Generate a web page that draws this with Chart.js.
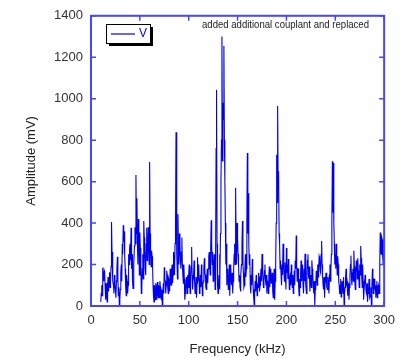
<!DOCTYPE html>
<html lang="en">
<head>
    <meta charset="UTF-8">
    <title>Amplitude spectrum</title>
    <style>
        html, body { margin: 0; padding: 0; background: #ffffff; }
        #wrap { width: 402px; height: 358px; }
    </style>
</head>
<body>
    <div id="wrap"><canvas id="chart" width="402" height="358"></canvas></div>
    <script src="https://cdn.jsdelivr.net/npm/chart.js@4.4.1/dist/chart.umd.min.js"></script>
    <script>
        // amplitude readings (mV), one every 0.5 kHz
        var amp10to59 = [20, 60, 100, 50, 185, 140, 120, 170, 160, 90, 30, 110, 60, 20, 100, 140, 70, 110, 163, 90,
                         120, 190, 405, 260, 200, 120, 100, 60, 150, 100, 80, 40, 120, 180, 238, 130, 50, 90, 0, 30,
                         80, 160, 200, 120, 300, 250, 390, 310, 360, 240, 180, 90, 50, 150, 120, 60, 100, 250, 200, 280,
                         300, 220, 377, 180, 250, 120, 85, 160, 200, 290, 380, 300, 632, 350, 520, 300, 200, 420, 350, 150,
                         354, 280, 200, 60, 92, 180, 250, 130, 410, 330, 267, 180, 150, 300, 377, 220, 250, 380, 300, 200];
        var amp60to109 = [695, 350, 270, 190, 267, 240, 200, 100, 44, 20, 100, 30, 60, 110, 90, 30, 116, 70, 40, 100,
                          40, 120, 90, 50, 30, 80, 0, 50, 110, 60, 187, 130, 120, 60, 100, 170, 150, 90, 60, 130,
                          120, 70, 180, 120, 100, 170, 200, 110, 150, 260, 211, 150, 300, 380, 838, 400, 250, 130, 443, 280,
                          200, 350, 300, 220, 180, 260, 330, 200, 150, 110, 200, 130, 30, 60, 80, 140, 120, 60, 150, 90,
                          150, 200, 100, 60, 140, 190, 285, 150, 80, 130, 150, 220, 120, 60, 70, 140, 40, 110, 235, 150];
        var amp110to159 = [120, 200, 60, 110, 150, 90, 200, 130, 50, 100, 120, 180, 230, 160, 150, 90, 80, 140, 180, 110,
                           180, 240, 260, 190, 150, 280, 414, 300, 200, 260, 120, 160, 250, 180, 80, 200, 760, 1043, 300, 100,
                           60, 100, 150, 250, 80, 350, 600, 800, 1300, 700, 980, 900, 1254, 800, 600, 400, 200, 300, 100, 180,
                           150, 80, 120, 200, 50, 130, 200, 120, 100, 160, 60, 120, 180, 250, 300, 200, 570, 300, 200, 400,
                           330, 250, 200, 120, 150, 90, 70, 150, 200, 300, 410, 200, 160, 90, 100, 180, 250, 140, 180, 400];
        var amp160to209 = [738, 350, 544, 300, 200, 250, 100, 60, 150, 100, 227, 160, 80, 40, 5, 60, 120, 70, 150, 110,
                           50, 100, 90, 160, 140, 70, 100, 140, 180, 120, 251, 200, 160, 90, 120, 170, 200, 130, 100, 150,
                           60, 120, 110, 60, 150, 190, 90, 150, 180, 110, 120, 160, 70, 40, 130, 180, 30, 120, 200, 400,
                           730, 500, 965, 600, 650, 350, 300, 180, 220, 150, 100, 200, 150, 300, 250, 180, 120, 210, 150, 80,
                           280, 160, 200, 130, 227, 150, 80, 140, 150, 100, 200, 130, 90, 150, 60, 110, 170, 100, 220, 180];
        var amp210to259 = [340, 200, 120, 180, 180, 90, 50, 130, 90, 160, 220, 120, 140, 200, 100, 60, 180, 120, 252, 170,
                           100, 60, 160, 220, 250, 150, 130, 190, 70, 130, 150, 90, 220, 180, 150, 90, 60, 120, 0, 80,
                           90, 170, 150, 100, 200, 140, 180, 240, 230, 170, 160, 250, 314, 200, 150, 100, 80, 140, 40, 100,
                           100, 160, 130, 90, 80, 140, 100, 60, 150, 200, 120, 180, 250, 400, 698, 450, 690, 400, 300, 200,
                           250, 180, 300, 220, 150, 240, 200, 120, 100, 60, 60, 130, 44, 90, 120, 80, 60, 140, 0, 60];
        var amp260to300 = [90, 130, 180, 110, 120, 60, 50, 110, 30, 90, 150, 200, 243, 140, 100, 160, 180, 120, 267, 190,
                           120, 80, 160, 220, 200, 130, 230, 170, 140, 90, 200, 150, 290, 230, 150, 90, 200, 120, 30, 80,
                           80, 150, 120, 70, 60, 110, 20, 60, 70, 130, 100, 40, 50, 90, 0, 100, 180, 120, 60, 130,
                           130, 80, 100, 40, 70, 120, 40, 90, 100, 60, 60, 200, 354, 280, 250, 330, 320, 240, 200, 300,
                           330];
        var freqStart = 10;  // kHz of the first reading
        var freqStep = 0.5;  // kHz between readings

        var xTickValues = [0, 50, 100, 150, 200, 250, 300];
        var yTickValues = [0, 200, 400, 600, 800, 1000, 1200, 1400];
        var seriesName = 'V';
        var note = 'added additional couplant and replaced';

        var axisBlue = '#4646ff';
        var lineBlue = '#0000ee';

        var amps = [].concat(amp10to59, amp60to109, amp110to159, amp160to209, amp210to259, amp260to300);
        var points = amps.map(function (v, i) { return { x: freqStart + i * freqStep, y: v }; });

        // frame with inward ticks on all four sides, legend box and note
        var frameTicks = {
            id: 'frameTicks',
            afterDraw: function (chart) {
                var ctx = chart.ctx, a = chart.chartArea;
                var xs = chart.scales.x, ys = chart.scales.y;
                ctx.save();
                ctx.strokeStyle = axisBlue;
                ctx.lineWidth = 1.5;
                ctx.beginPath();
                xs.ticks.forEach(function (t) {
                    var px = xs.getPixelForValue(t.value);
                    ctx.moveTo(px, a.bottom); ctx.lineTo(px, a.bottom - 5);
                    ctx.moveTo(px, a.top); ctx.lineTo(px, a.top + 5);
                });
                ys.ticks.forEach(function (t) {
                    var py = ys.getPixelForValue(t.value);
                    ctx.moveTo(a.left, py); ctx.lineTo(a.left + 5, py);
                    ctx.moveTo(a.right, py); ctx.lineTo(a.right - 5, py);
                });
                ctx.stroke();
                ctx.lineWidth = 2;
                ctx.strokeRect(a.left, a.top, a.right - a.left, a.bottom - a.top);

                // legend
                var lx = 106, ly = 24, lw = 44, lh = 19;
                ctx.fillStyle = '#000000';
                ctx.fillRect(lx + 3, ly + 3, lw, lh);
                ctx.fillStyle = '#ffffff';
                ctx.fillRect(lx, ly, lw, lh);
                ctx.strokeStyle = '#000000';
                ctx.lineWidth = 1;
                ctx.strokeRect(lx + 0.5, ly + 0.5, lw, lh);
                ctx.strokeStyle = lineBlue;
                ctx.lineWidth = 1.2;
                ctx.beginPath();
                ctx.moveTo(lx + 5, ly + 10); ctx.lineTo(lx + 29, ly + 10);
                ctx.stroke();
                ctx.fillStyle = lineBlue;
                ctx.font = '12px "Liberation Sans"';
                ctx.textBaseline = 'middle';
                ctx.fillText(chart.data.datasets[0].label, lx + 33, ly + 10);

                // note
                ctx.fillStyle = '#222222';
                ctx.font = '11px "Liberation Sans"';
                ctx.fillText(note, 202, 25, 167);
                ctx.restore();
            }
        };

        var ctx = document.getElementById('chart').getContext('2d');
        var chart = new Chart(ctx, {
            type: 'line',
            data: {
                datasets: [{
                    label: seriesName,
                    data: points,
                    borderColor: lineBlue,
                    borderWidth: 1.1,
                    pointRadius: 0,
                    tension: 0,
                    fill: false
                }]
            },
            options: {
                responsive: false,
                animation: false,
                layout: { padding: { top: 12, right: 14, left: 0, bottom: 0 } },
                plugins: {
                    legend: { display: false },
                    tooltip: { enabled: false }
                },
                scales: {
                    x: {
                        type: 'linear',
                        min: 0,
                        max: 300,
                        afterBuildTicks: function (s) { s.ticks = xTickValues.map(function (v) { return { value: v }; }); },
                        afterFit: function (s) { s.height = 52; },
                        grid: { display: false, drawTicks: false },
                        border: { display: false },
                        ticks: {
                            color: '#333333',
                            padding: 7,
                            maxRotation: 0,
                            callback: function (v) { return String(v); },
                            font: { family: 'Liberation Sans', size: 13 }
                        },
                        title: {
                            display: true,
                            text: 'Frequency (kHz)',
                            color: '#222222',
                            padding: { top: 0, bottom: 1 },
                            font: { family: 'Liberation Sans', size: 13 }
                        }
                    },
                    y: {
                        min: 0,
                        max: 1400,
                        afterBuildTicks: function (s) { s.ticks = yTickValues.map(function (v) { return { value: v }; }); },
                        afterFit: function (s) { s.width = 91; },
                        grid: { display: false, drawTicks: false },
                        border: { display: false },
                        ticks: {
                            color: '#333333',
                            padding: 8,
                            callback: function (v) { return String(v); },
                            font: { family: 'Liberation Sans', size: 13 }
                        },
                        title: {
                            display: true,
                            text: 'Amplitude (mV)',
                            color: '#222222',
                            padding: { top: 24, bottom: 0 },
                            font: { family: 'Liberation Sans', size: 13 }
                        }
                    }
                }
            },
            plugins: [frameTicks]
        });
    </script>
</body>
</html>
